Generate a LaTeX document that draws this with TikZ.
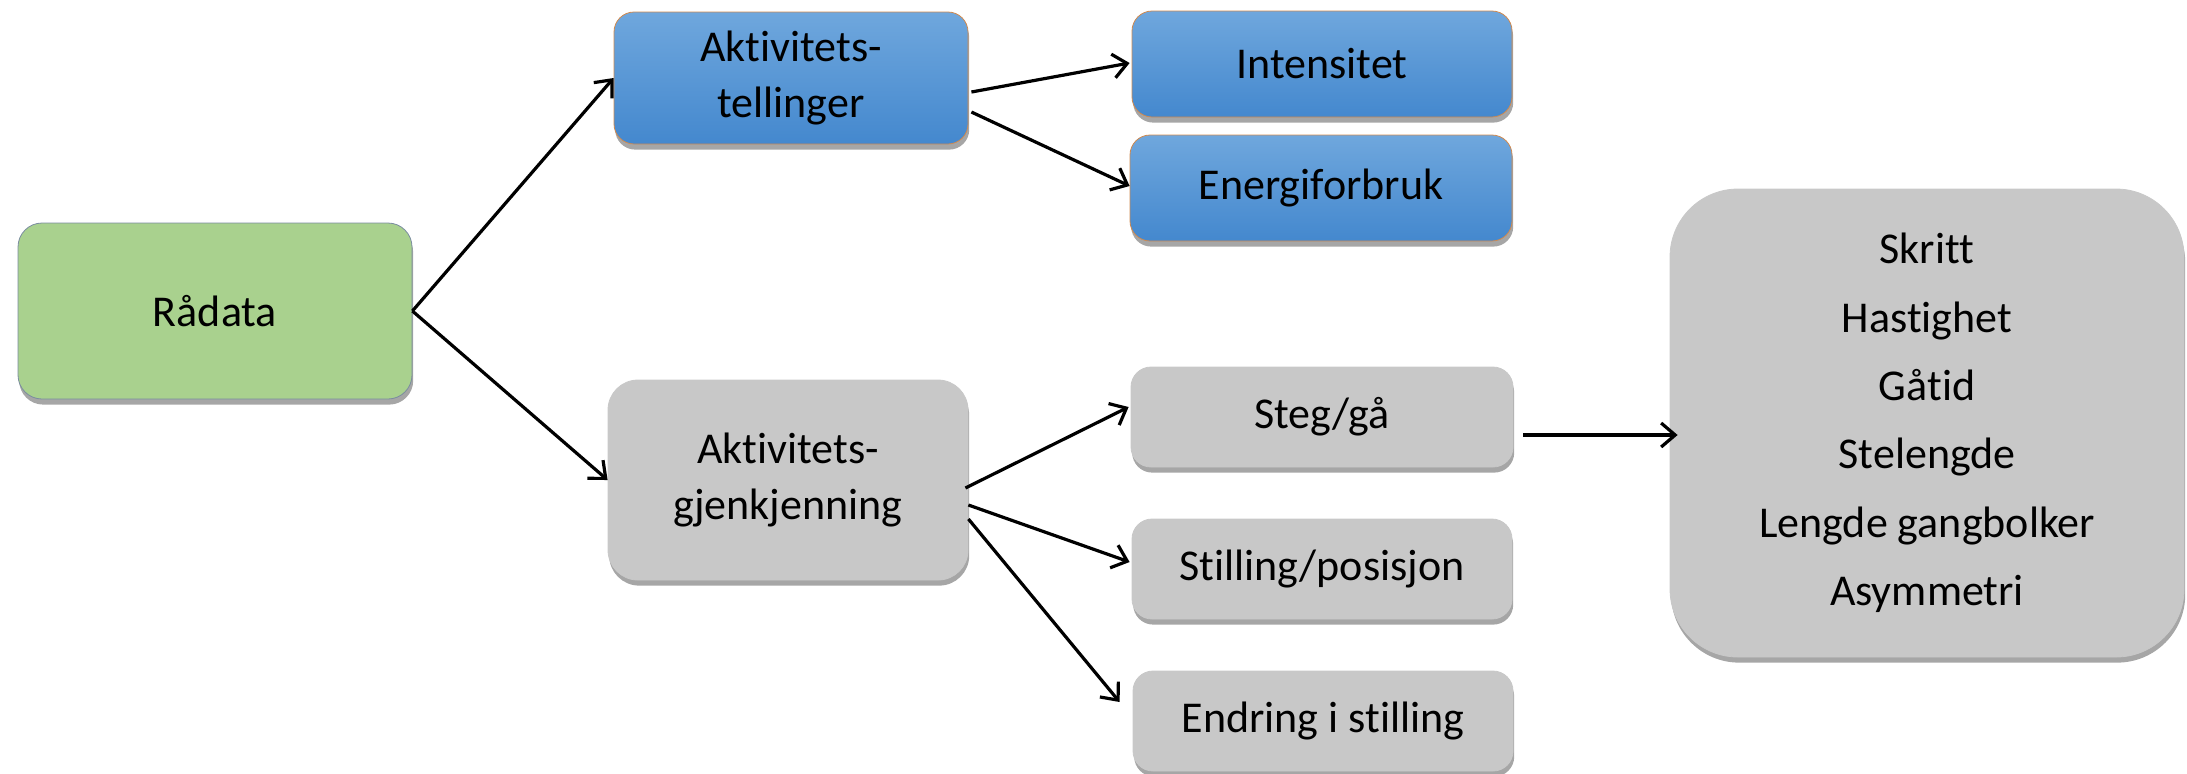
\documentclass[tikz,border=0pt]{standalone}
\usepackage{fontspec}
\setmainfont{Carlito}[Ligatures=NoCommon]
\usetikzlibrary{arrows.meta,shadows,calc}
\definecolor{grn}{HTML}{A9D18E}
\definecolor{grnborder}{HTML}{7A8CA0}
\definecolor{blueT}{HTML}{6FA7DD}
\definecolor{blueB}{HTML}{4488CE}
\definecolor{blueborder}{HTML}{D08A50}
\definecolor{gry}{HTML}{C8C8C8}
\tikzset{
  boxbase/.style={rectangle, align=center, inner sep=0pt, font=\fontsize{22}{28}\selectfont,
    drop shadow={shadow xshift=0.6pt, shadow yshift=-2.8pt, opacity=0.35, fill=black}},
  greenbox/.style={boxbase, fill=grn, draw=grnborder, line width=0.4pt, rounded corners=12pt},
  bluebox/.style={boxbase, top color=blueT, bottom color=blueB, draw=blueborder, line width=0.4pt, rounded corners=10pt},
  graybox/.style={boxbase, fill=gry, draw=gry, rounded corners=10pt},
  conn/.style={-{Straight Barb[length=7pt,width=12pt,line width=1.6pt]}, line width=1.6pt, black},
}
\begin{document}
\begin{tikzpicture}[x=0.5pt,y=-0.5pt]
\useasboundingbox (0,0) rectangle (2187,773);
\node[greenbox, minimum width=197pt, minimum height=88pt] (rad) at (215,311) {Rådata};
\node[bluebox, minimum width=177pt, minimum height=66pt] (tell) at (791,78) {Aktivitets-\\tellinger};
\node[bluebox, minimum width=190pt, minimum height=53pt] (int) at (1322,64) {Intensitet};
\node[bluebox, minimum width=191pt, minimum height=53pt] (ene) at (1321,188) {Energiforbruk};
\node[graybox, rounded corners=15pt, minimum width=180pt, minimum height=100pt] (gje) at (788,480) {Aktivitets-\\gjenkjenning};
\node[graybox, minimum width=191pt, minimum height=50pt] (steg) at (1322,417) {Steg/gå};
\node[graybox, minimum width=190pt, minimum height=50pt] (stil) at (1322,569) {Stilling/posisjon};
\node[graybox, minimum width=190pt, minimum height=50pt] (endr) at (1323,721) {Endring i stilling};
\node[graybox, rounded corners=34pt, minimum width=257pt, minimum height=234pt, font=\fontsize{22}{34.2}\selectfont] (big) at (1927,423)
  {Skritt\\Hastighet\\Gåtid\\Stelengde\\Lengde gangbolker\\Asymmetri};
\draw[conn] (rad.east) -- (tell.west);
\draw[conn] (rad.east) -- (gje.west);
\draw[conn] ($(tell.east)+(3,14)$) -- ($(int.west)+(-2,-1)$);
\draw[conn] ($(tell.east)+(3,34)$) -- ($(ene.west)+(0,-2)$);
\draw[conn] ($(gje.east)+(-3,8)$) -- ($(steg.west)+(-2,-10)$);
\draw[conn] ($(gje.east)+(0,25)$) -- ($(stil.west)+(-2,-7)$);
\draw[conn] ($(gje.east)+(0,39)$) -- ($(endr.west)+(-13,-19)$);
\draw[conn] ($(steg.east)+(10,18)$) -- ($(big.west)+(8,12)$);
\end{tikzpicture}
\end{document}
